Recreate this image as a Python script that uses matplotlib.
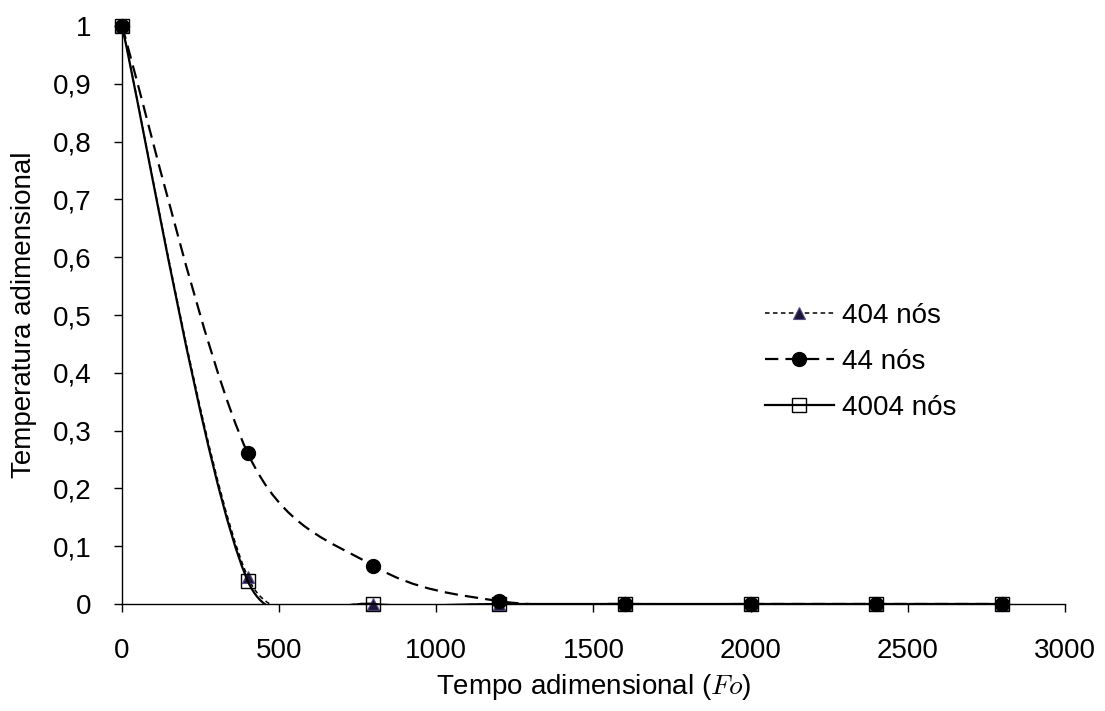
#!/usr/bin/env python3
# Temperatura adimensional vs tempo adimensional para tres malhas

import numpy as np
import matplotlib
matplotlib.use('Agg')
import matplotlib.pyplot as plt
from matplotlib.path import Path
from matplotlib.patches import PathPatch, Rectangle
from matplotlib.lines import Line2D

# dados
fo = [0, 400, 800, 1200, 1600, 2000, 2400, 2800]
t_404 = [1.0, 0.047, 0.0, 0.0, 0.0, 0.0, 0.0, 0.0]
t_44 = [1.0, 0.261, 0.066, 0.005, 0.0, 0.0, 0.0, 0.0]
t_4004 = [1.0, 0.040, 0.0, 0.0, 0.0, 0.0, 0.0, 0.0]

x_ticks = [0, 500, 1000, 1500, 2000, 2500, 3000]
y_ticks = [0, 0.1, 0.2, 0.3, 0.4, 0.5, 0.6, 0.7, 0.8, 0.9, 1.0]
y_tick_labels = ['0', '0,1', '0,2', '0,3', '0,4', '0,5',
                 '0,6', '0,7', '0,8', '0,9', '1']

plt.rcParams['font.family'] = ['Liberation Sans', 'DejaVu Sans']
plt.rcParams['mathtext.fontset'] = 'cm'


def smooth_path(ax, xs, ys):
    '''
    Curva suavizada (bezier cubica) pelos pontos, calculada em pixels;
    o braco de cada ponto de controle fica limitado a meio segmento
    '''
    pts = ax.transData.transform(np.column_stack([xs, ys]))
    n = len(pts)
    verts = [pts[0]]
    codes = [Path.MOVETO]
    for i in range(n - 1):
        p0 = pts[max(i - 1, 0)]
        p1 = pts[i]
        p2 = pts[i + 1]
        p3 = pts[min(i + 2, n - 1)]
        d12 = np.hypot(*(p2 - p1))
        d02 = np.hypot(*(p2 - p0))
        d13 = np.hypot(*(p3 - p1))
        c1 = p1.copy()
        c2 = p2.copy()
        if d02 > 0:
            c1 = p1 + (p2 - p0) / d02 * min(d02 / 6, d12 / 2)
        if d13 > 0:
            c2 = p2 - (p3 - p1) / d13 * min(d13 / 6, d12 / 2)
        verts += [c1, c2, p2]
        codes += [Path.CURVE4] * 3
    verts = ax.transData.inverted().transform(np.array(verts))
    return Path(verts, codes)


def main():
    fig = plt.figure(figsize=(11.05, 7.11), dpi=100)
    ax = fig.add_axes([0.1104, 0.1505, 0.8534, 0.8129])
    ax.set_xlim(0, 3000)
    ax.set_ylim(0, 1)

    clip = Rectangle((-50, -0.002), 3100, 1.05, transform=ax.transData)

    series = [
        (t_404, '404 nós', dict(linestyle=(0, (3, 2.2)), linewidth=1.1),
         dict(marker='^', markersize=8, markerfacecolor='#1c1836',
              markeredgecolor='#5a4a8a', markeredgewidth=0.8)),
        (t_44, '44 nós', dict(linestyle=(0, (6, 3.2)), linewidth=1.6),
         dict(marker='o', markersize=10, markerfacecolor='black',
              markeredgecolor='black')),
        (t_4004, '4004 nós', dict(linestyle='solid', linewidth=1.6),
         dict(marker='s', markersize=9.5, markerfacecolor='none',
              markeredgecolor='black', markeredgewidth=1.0)),
    ]

    handles = []
    for k, (vals, label, lstyle, mstyle) in enumerate(series):
        patch = PathPatch(smooth_path(ax, fo, vals), fill=False,
                          edgecolor='black', zorder=3 + 2 * k, **lstyle)
        ax.add_patch(patch)
        patch.set_clip_path(clip)
        ax.plot(fo, vals, linestyle='none', clip_on=False,
                zorder=4 + 2 * k, **mstyle)
        handles.append(Line2D([], [], color='black', label=label,
                              **lstyle, **mstyle))

    # eixos
    for side in ['top', 'right']:
        ax.spines[side].set_visible(False)
    for side in ['left', 'bottom']:
        ax.spines[side].set_linewidth(1.0)
        ax.spines[side].set_zorder(2)
    ax.set_xticks(x_ticks)
    ax.set_yticks(y_ticks)
    ax.set_yticklabels(y_tick_labels)
    ax.tick_params(direction='out', length=6, width=1, labelsize=20)
    ax.tick_params(axis='y', pad=16)
    ax.tick_params(axis='x', pad=18.5)
    ax.set_xlabel('Tempo adimensional ($Fo$)', fontsize=20, labelpad=6)
    ax.set_ylabel('Temperatura adimensional', fontsize=20, labelpad=11)

    ax.legend(handles=handles, loc='upper left', frameon=False,
              fontsize=20, handlelength=2.5, handletextpad=0.3,
              labelspacing=0.72, borderpad=0, borderaxespad=0,
              numpoints=1, bbox_to_anchor=(0.692, 0.5745),
              bbox_transform=fig.transFigure)

    fig.savefig('out.png', dpi=100)


if __name__ == '__main__':
    main()
